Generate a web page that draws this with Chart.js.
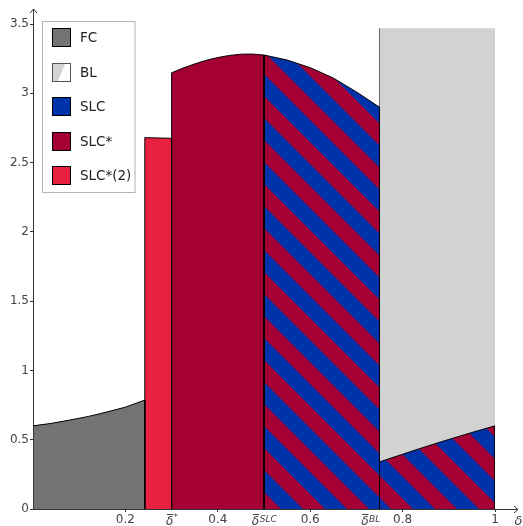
<!DOCTYPE html>
<html>
<head>
<meta charset="utf-8">
<script src="https://cdn.jsdelivr.net/npm/chart.js@4.4.0/dist/chart.umd.min.js"></script>
<style>
  html, body { margin: 0; padding: 0; background: #fff; }
  #wrap { width: 523px; height: 526px; }
</style>
</head>
<body>
<div id="wrap"><canvas id="c" width="523" height="526"></canvas></div>
<script>
// Regime thresholds on the delta axis
const FC_END = 0.242;
const DELTA_STAR = 0.3;
const DELTA_SLC = 0.5;
const DELTA_BL = 0.75;

// FC: upper boundary for 0 <= delta <= FC_END
const FC_X = [0, 0.04, 0.08, 0.12, 0.16, 0.2, FC_END];
const FC_Y = [0.600, 0.618, 0.642, 0.668, 0.700, 0.735, 0.786];

// SLC*(2): narrow band between FC_END and delta*
const SLC2_X = [FC_END, DELTA_STAR];
const SLC2_Y = [2.680, 2.675];

// SLC*: between delta* and delta^SLC
const SLCS_X = [DELTA_STAR, 0.325, 0.35, 0.375, 0.4, 0.425, 0.45, 0.475, DELTA_SLC];
const SLCS_Y = [3.148, 3.182, 3.212, 3.238, 3.258, 3.273, 3.282, 3.283, 3.276];

// SLC: between delta^SLC and delta^BL
const SLC_X = [DELTA_SLC, 0.55, 0.6, 0.65, 0.7, DELTA_BL];
const SLC_Y = [3.276, 3.240, 3.185, 3.110, 3.010, 2.900];

// SLC below the BL region, delta^BL .. 1
const SLC_LOW_X = [DELTA_BL, 0.8, 0.85, 0.9, 0.95, 1];
const SLC_LOW_Y = [0.340, 0.395, 0.450, 0.502, 0.552, 0.600];

// BL: from the SLC boundary up to this level
const BL_X = [DELTA_BL, 1];
const BL_Y = [3.47, 3.47];

// Axis ticks
const Y_TICKS = [0, 0.5, 1, 1.5, 2, 2.5, 3, 3.5];
const X_TICKS = [0.2, DELTA_STAR, 0.4, DELTA_SLC, 0.6, DELTA_BL, 0.8, 1];
const X_TICK_TEXT = ['0.2', 'δ', '0.4', 'δ', '0.6', 'δ', '0.8', '1'];
const X_TICK_SUP = ['', '*', '', 'SLC', '', 'BL', '', ''];

const LEGEND_LABELS = ['FC', 'BL', 'SLC', 'SLC*', 'SLC*(2)'];

const C_FC = '#737373';
const C_BL = '#d2d2d2';
const C_SLC = '#0033aa';
const C_SLCS = '#a50034';
const C_SLC2 = '#e82140';
const AXIS = '#333';
const TEXT = '#444';

// Diagonal blue / crimson stripes for the SLC regime
function makeHatch() {
  const P = 44;
  const tile = document.createElement('canvas');
  tile.width = P; tile.height = P;
  const t = tile.getContext('2d');
  t.fillStyle = C_SLCS;
  t.fillRect(0, 0, P, P);
  t.strokeStyle = C_SLC;
  t.lineWidth = (P / 2) / Math.SQRT2;
  t.lineCap = 'butt';
  for (let k = -3; k <= 3; k++) {
    const c = 3 + k * P;
    t.beginPath();
    t.moveTo(c - 20, -20);
    t.lineTo(c + P + 20, P + 20);
    t.stroke();
  }
  return t.createPattern(tile, 'repeat');
}
const HATCH = makeHatch();

function region(xs, ys) {
  const pts = [{ x: xs[0], y: 0 }];
  xs.forEach((x, i) => pts.push({ x: x, y: ys[i] }));
  pts.push({ x: xs[xs.length - 1], y: 0 });
  return pts;
}

const base = {
  fill: 'origin', pointRadius: 0, pointHoverRadius: 0, tension: 0,
  borderColor: '#000', borderWidth: 1, borderJoinStyle: 'miter'
};

const datasets = [
  Object.assign({}, base, { label: 'FC', data: region(FC_X, FC_Y), backgroundColor: C_FC, order: 1 }),
  Object.assign({}, base, { label: 'SLC*(2)', data: region(SLC2_X, SLC2_Y), backgroundColor: C_SLC2, order: 2 }),
  Object.assign({}, base, { label: 'SLC*', data: region(SLCS_X, SLCS_Y), backgroundColor: C_SLCS, order: 3 }),
  Object.assign({}, base, { label: 'SLC', data: region(SLC_X, SLC_Y), backgroundColor: HATCH, order: 4 }),
  Object.assign({}, base, { label: 'SLC', data: region(SLC_LOW_X, SLC_LOW_Y), backgroundColor: HATCH, order: 5 }),
  Object.assign({}, base, {
    label: 'BL', data: region(BL_X, BL_Y), backgroundColor: C_BL, order: 6,
    segment: { borderColor: ctx => ctx.p0DataIndex === 0 ? '#666' : 'rgba(0,0,0,0)' }
  })
];

// Axis arrows, symbolic tick labels, axis title and boxed legend
const decor = {
  id: 'decor',
  afterDraw(chart) {
    const ctx = chart.ctx;
    const a = chart.chartArea;
    const xs = chart.scales.x;
    ctx.save();
    ctx.strokeStyle = AXIS;
    ctx.lineWidth = 1;
    // extend axes with arrow heads
    const yb = Math.round(a.bottom) + 0.5;
    const xl = Math.round(a.left) + 0.5;
    ctx.beginPath();
    ctx.moveTo(a.right, yb); ctx.lineTo(518, yb);
    ctx.moveTo(514, yb - 3.5); ctx.lineTo(518, yb); ctx.lineTo(514, yb + 3.5);
    ctx.moveTo(xl, a.top); ctx.lineTo(xl, 9);
    ctx.moveTo(xl - 3.5, 13); ctx.lineTo(xl, 9); ctx.lineTo(xl + 3.5, 13);
    ctx.stroke();

    // delta labels with overbar and superscript
    ctx.fillStyle = TEXT;
    ctx.textBaseline = 'alphabetic';
    ctx.textAlign = 'left';
    X_TICKS.forEach((v, i) => {
      const sup = X_TICK_SUP[i];
      if (!sup) return;
      const px = xs.getPixelForValue(v);
      ctx.font = 'italic 12px "DejaVu Sans"';
      const wd = ctx.measureText(X_TICK_TEXT[i]).width;
      const supFont = sup === '*' ? '8px "DejaVu Sans"' : 'italic 9px "DejaVu Sans"';
      ctx.font = supFont;
      const ws = ctx.measureText(sup).width;
      let left = px - (wd + ws) / 2 + (sup === 'BL' ? -9 : 0);
      ctx.font = 'italic 12px "DejaVu Sans"';
      ctx.fillText(X_TICK_TEXT[i], left, 525);
      ctx.font = supFont;
      ctx.fillText(sup, left + wd + 0.5, sup === '*' ? 520 : 521.5);
      ctx.beginPath();
      ctx.strokeStyle = TEXT;
      ctx.moveTo(left + 1, 514.5); ctx.lineTo(left + wd, 514.5);
      ctx.stroke();
    });

    // axis title
    ctx.font = 'italic 13px "DejaVu Sans"';
    ctx.textAlign = 'center';
    ctx.fillText('δ', 518.5, 525);

    // legend
    ctx.fillStyle = '#fff';
    ctx.fillRect(42.5, 21.5, 92.5, 171);
    ctx.strokeStyle = '#b4b4b4';
    ctx.strokeRect(42.5, 21.5, 92.5, 171);
    const fills = [C_FC, null, C_SLC, C_SLCS, C_SLC2];
    LEGEND_LABELS.forEach((lab, i) => {
      const top = Math.round(28 + i * 34.6) + 0.5;
      const l = 52.5, s = 18;
      if (fills[i]) {
        ctx.fillStyle = fills[i];
        ctx.fillRect(l, top, s, s);
        ctx.strokeStyle = '#000';
      } else {
        ctx.fillStyle = '#fff';
        ctx.fillRect(l, top, s, s);
        ctx.fillStyle = C_BL;
        ctx.beginPath();
        ctx.moveTo(l, top); ctx.lineTo(l + s * 0.7, top);
        ctx.lineTo(l + s * 0.3, top + s); ctx.lineTo(l, top + s);
        ctx.closePath(); ctx.fill();
        ctx.strokeStyle = '#555';
      }
      ctx.strokeRect(l, top, s, s);
      ctx.fillStyle = '#222';
      ctx.font = '13.5px "DejaVu Sans"';
      ctx.textAlign = 'left';
      ctx.textBaseline = 'middle';
      ctx.fillText(lab, 80, top + s / 2 + 0.5);
    });
    ctx.restore();
  }
};

new Chart(document.getElementById('c'), {
  type: 'line',
  data: { datasets: datasets },
  options: {
    responsive: false,
    animation: false,
    devicePixelRatio: 1,
    events: [],
    layout: { padding: { top: 24, right: 28, left: 0, bottom: 0 } },
    plugins: { legend: { display: false }, tooltip: { enabled: false } },
    scales: {
      x: {
        type: 'linear', min: 0, max: 1, z: 1,
        afterBuildTicks: s => { s.ticks = X_TICKS.map(v => ({ value: v })); },
        ticks: {
          autoSkip: false, maxRotation: 0, padding: 1, color: TEXT,
          font: { family: 'DejaVu Sans', size: 12 },
          callback: (v, i) => X_TICK_SUP[i] ? '' : X_TICK_TEXT[i]
        },
        grid: {
          drawOnChartArea: false, tickLength: 3,
          color: ctx => X_TICK_SUP[ctx.index] ? 'rgba(0,0,0,0)' : AXIS
        },
        border: { color: AXIS, width: 1 },
        afterFit: s => { s.height = 17; }
      },
      y: {
        type: 'linear', min: 0, max: 3.5, z: 1,
        afterBuildTicks: s => { s.ticks = Y_TICKS.map(v => ({ value: v })); },
        ticks: {
          padding: 1, color: TEXT,
          font: { family: 'DejaVu Sans', size: 12 },
          callback: v => String(v)
        },
        grid: { drawOnChartArea: false, tickLength: 3, color: AXIS },
        border: { color: AXIS, width: 1 },
        afterFit: s => { s.width = 33; }
      }
    }
  },
  plugins: [decor]
});
</script>
</body>
</html>
